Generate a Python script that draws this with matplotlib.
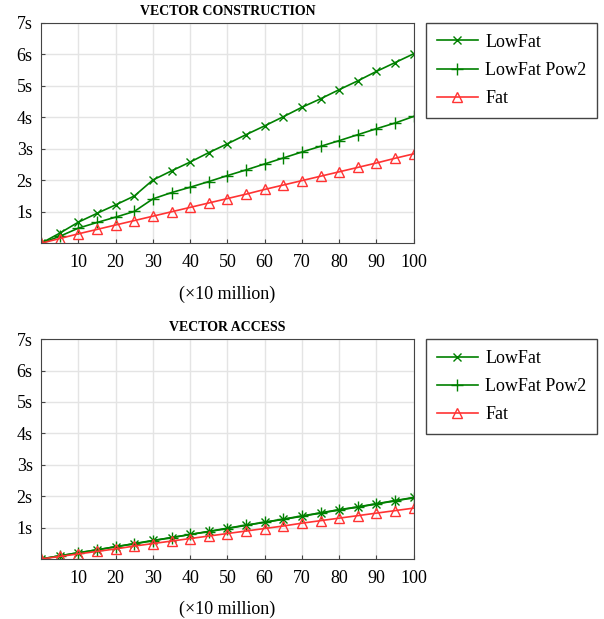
import matplotlib
matplotlib.use('Agg')
import matplotlib.pyplot as plt

# Data (x in units of 10 million)
x = [0, 5, 10, 15, 20, 25, 30, 35, 40, 45, 50, 55, 60, 65, 70, 75, 80, 85, 90, 95, 100]

build_lowfat = [0, 0.32, 0.67, 0.95, 1.22, 1.50, 2.01, 2.30, 2.58, 2.88, 3.16, 3.45, 3.73, 4.02,
                4.32, 4.59, 4.88, 5.16, 5.46, 5.74, 6.02]
build_pow2 = [0, 0.22, 0.48, 0.66, 0.83, 1.01, 1.41, 1.61, 1.78, 1.96, 2.15, 2.33, 2.52, 2.71,
              2.90, 3.08, 3.26, 3.45, 3.64, 3.82, 4.03]
build_fat = [0, 0.15, 0.30, 0.44, 0.58, 0.72, 0.86, 1.00, 1.14, 1.28, 1.42, 1.56, 1.71, 1.85,
             1.99, 2.13, 2.27, 2.41, 2.55, 2.70, 2.84]

access_lowfat = [0, 0.10, 0.20, 0.29, 0.39, 0.49, 0.59, 0.68, 0.78, 0.88, 0.98, 1.08, 1.17, 1.27,
                 1.37, 1.47, 1.57, 1.66, 1.76, 1.86, 1.96]
access_pow2 = [0, 0.10, 0.19, 0.29, 0.39, 0.48, 0.58, 0.68, 0.78, 0.87, 0.97, 1.07, 1.17, 1.26,
               1.36, 1.46, 1.56, 1.65, 1.75, 1.85, 1.95]
access_fat = [0, 0.08, 0.16, 0.24, 0.32, 0.41, 0.49, 0.57, 0.65, 0.73, 0.81, 0.89, 0.97, 1.05,
              1.14, 1.22, 1.30, 1.38, 1.46, 1.54, 1.62]

xticks = [10, 20, 30, 40, 50, 60, 70, 80, 90, 100]
yticks = [1, 2, 3, 4, 5, 6, 7]
ytick_labels = ['%ds' % v for v in yticks]

plt.rcParams['font.family'] = ['Liberation Serif', 'DejaVu Serif']
plt.rcParams['font.size'] = 13

green = '#008000'
red = '#ff3333'

fig = plt.figure(figsize=(6.04, 6.19), dpi=100)

panels = [
    ('VECTOR CONSTRUCTION', build_lowfat, build_pow2, build_fat, [0.068, 0.607, 0.617, 0.356], 0.963),
    ('VECTOR ACCESS', access_lowfat, access_pow2, access_fat, [0.068, 0.097, 0.617, 0.355], 0.452),
]

for title, lf, p2, fat, rect, top in panels:
    ax = fig.add_axes(rect)
    ax.plot(x, lf, color=green, marker='x', markersize=6, linewidth=1.2, label='LowFat')
    ax.plot(x, p2, color=green, marker='+', markersize=8, linewidth=1.2, label='LowFat Pow2')
    ax.plot(x, fat, color=red, marker='^', markersize=7, markerfacecolor='none',
            linewidth=1.2, label='Fat')
    ax.set_xlim(0, 100)
    ax.set_ylim(0, 7)
    ax.set_xticks(xticks)
    ax.set_yticks(yticks)
    ax.set_yticklabels(ytick_labels)
    ax.grid(True, color='#e4e4e4', linewidth=1)
    ax.set_axisbelow(True)
    ax.tick_params(direction='in', length=3, color='#444444', labelsize=13, pad=6)
    ax.tick_params(axis='x', pad=8)
    for s in ax.spines.values():
        s.set_color('#444444')
    ax.set_title(title, fontsize=10, fontweight='bold', pad=6)
    ax.set_xlabel('(×10 million)', fontsize=13, labelpad=10)
    ax.legend(loc='upper left', bbox_to_anchor=(0.705, top), bbox_transform=fig.transFigure,
              borderaxespad=0, fancybox=False, edgecolor='#444444', framealpha=1,
              handlelength=2.3, handletextpad=0.4, borderpad=0.6, labelspacing=0.62,
              fontsize=13)

plt.savefig('out.png', dpi=100)
plt.close()
